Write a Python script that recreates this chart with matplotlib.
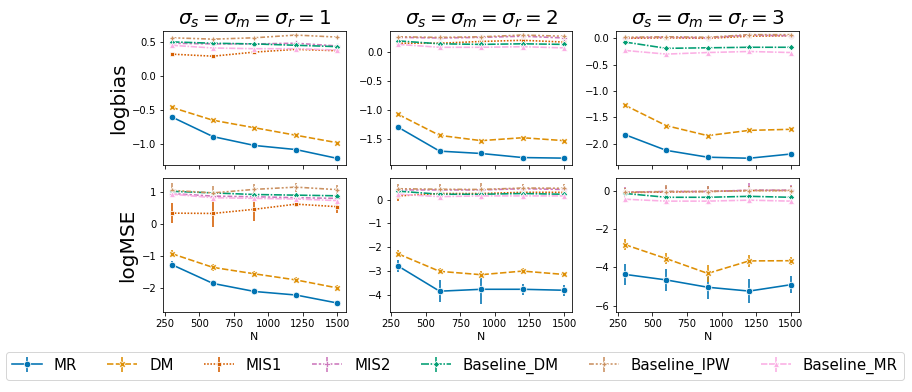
import matplotlib.pyplot as plt

# Tamanhos de amostra
N = [300, 600, 900, 1200, 1500]

methods = ['MR', 'DM', 'MIS1', 'MIS2', 'Baseline_DM', 'Baseline_IPW', 'Baseline_MR']
colors = ['#0173b2', '#de8f05', '#d55e00', '#cc78bc', '#029e73', '#ca9161', '#fbafe4']
markers = ['o', 'X', (4, 0, 45), 'P', (4, 0, 0), (4, 1, 0), '^']
dashes = [(), (4, 1.5), (1, 1), (3, 1.25, 1.5, 1.25), (5, 1, 1, 1),
          (3, 1.25, 1.25, 1.25, 1.25, 1.25), (4, 1, 4, 1, 1, 1)]

# logbias, sigma = 1, 2, 3
bias_s1 = {
    'MR': [-0.60, -0.89, -1.02, -1.08, -1.21],
    'DM': [-0.46, -0.65, -0.76, -0.87, -0.98],
    'MIS1': [0.32, 0.29, 0.35, 0.39, 0.37],
    'MIS2': [0.48, 0.47, 0.47, 0.48, 0.44],
    'Baseline_DM': [0.50, 0.48, 0.47, 0.45, 0.43],
    'Baseline_IPW': [0.56, 0.54, 0.56, 0.60, 0.57],
    'Baseline_MR': [0.45, 0.41, 0.40, 0.40, 0.38],
}
bias_s2 = {
    'MR': [-1.29, -1.70, -1.74, -1.81, -1.82],
    'DM': [-1.07, -1.43, -1.52, -1.47, -1.52],
    'MIS1': [0.15, 0.15, 0.18, 0.20, 0.17],
    'MIS2': [0.25, 0.24, 0.25, 0.27, 0.24],
    'Baseline_DM': [0.19, 0.14, 0.13, 0.14, 0.13],
    'Baseline_IPW': [0.26, 0.25, 0.26, 0.29, 0.27],
    'Baseline_MR': [0.13, 0.08, 0.08, 0.09, 0.07],
}
bias_s3 = {
    'MR': [-1.83, -2.13, -2.26, -2.28, -2.20],
    'DM': [-1.27, -1.66, -1.85, -1.75, -1.73],
    'MIS1': [0.00, 0.01, 0.00, 0.04, 0.05],
    'MIS2': [0.01, 0.02, 0.01, 0.06, 0.05],
    'Baseline_DM': [-0.07, -0.19, -0.18, -0.17, -0.17],
    'Baseline_IPW': [0.02, 0.03, 0.02, 0.07, 0.07],
    'Baseline_MR': [-0.23, -0.30, -0.27, -0.25, -0.27],
}

# logMSE (media) e meia-largura da barra de erro
mse_s1 = {
    'MR': [-1.26, -1.85, -2.10, -2.21, -2.46],
    'DM': [-0.92, -1.35, -1.55, -1.74, -1.99],
    'MIS1': [0.34, 0.33, 0.46, 0.62, 0.54],
    'MIS2': [0.95, 0.87, 0.85, 0.82, 0.80],
    'Baseline_DM': [1.02, 0.97, 0.92, 0.90, 0.88],
    'Baseline_IPW': [1.05, 0.97, 1.08, 1.15, 1.07],
    'Baseline_MR': [0.93, 0.82, 0.80, 0.78, 0.73],
}
err_s1 = {
    'MR': [0.10, 0.10, 0.10, 0.10, 0.06],
    'DM': [0.12, 0.12, 0.10, 0.10, 0.08],
    'MIS1': [0.32, 0.42, 0.38, 0.10, 0.20],
    'MIS2': [0.08, 0.08, 0.08, 0.08, 0.08],
    'Baseline_DM': [0.06, 0.06, 0.06, 0.06, 0.06],
    'Baseline_IPW': [0.22, 0.22, 0.18, 0.14, 0.15],
    'Baseline_MR': [0.08, 0.08, 0.08, 0.08, 0.08],
}
mse_s2 = {
    'MR': [-2.78, -3.83, -3.75, -3.75, -3.79],
    'DM': [-2.27, -3.00, -3.14, -2.99, -3.13],
    'MIS1': [0.15, 0.25, 0.25, 0.30, 0.30],
    'MIS2': [0.40, 0.40, 0.40, 0.45, 0.42],
    'Baseline_DM': [0.35, 0.22, 0.22, 0.25, 0.22],
    'Baseline_IPW': [0.45, 0.43, 0.42, 0.48, 0.47],
    'Baseline_MR': [0.22, 0.12, 0.15, 0.15, 0.15],
}
err_s2 = {
    'MR': [0.25, 0.45, 0.60, 0.22, 0.22],
    'DM': [0.15, 0.12, 0.15, 0.12, 0.12],
    'MIS1': [0.22, 0.15, 0.25, 0.15, 0.15],
    'MIS2': [0.15, 0.15, 0.15, 0.15, 0.15],
    'Baseline_DM': [0.08, 0.08, 0.08, 0.08, 0.08],
    'Baseline_IPW': [0.20, 0.20, 0.25, 0.15, 0.18],
    'Baseline_MR': [0.15, 0.15, 0.15, 0.15, 0.15],
}
mse_s3 = {
    'MR': [-4.36, -4.65, -5.03, -5.23, -4.90],
    'DM': [-2.81, -3.54, -4.31, -3.66, -3.65],
    'MIS1': [-0.10, -0.08, -0.05, 0.00, 0.00],
    'MIS2': [-0.08, -0.05, -0.05, 0.02, 0.02],
    'Baseline_DM': [-0.15, -0.35, -0.35, -0.30, -0.35],
    'Baseline_IPW': [-0.10, -0.05, -0.05, 0.00, 0.00],
    'Baseline_MR': [-0.45, -0.55, -0.55, -0.50, -0.55],
}
err_s3 = {
    'MR': [0.55, 0.55, 0.60, 0.62, 0.45],
    'DM': [0.30, 0.30, 0.45, 0.30, 0.20],
    'MIS1': [0.25, 0.25, 0.25, 0.25, 0.25],
    'MIS2': [0.25, 0.30, 0.30, 0.35, 0.25],
    'Baseline_DM': [0.10, 0.10, 0.10, 0.10, 0.10],
    'Baseline_IPW': [0.25, 0.35, 0.30, 0.25, 0.25],
    'Baseline_MR': [0.20, 0.20, 0.20, 0.20, 0.20],
}

bias_list = [bias_s1, bias_s2, bias_s3]
mse_list = [mse_s1, mse_s2, mse_s3]
err_list = [err_s1, err_s2, err_s3]
titles = [r'$\sigma_s = \sigma_m = \sigma_r = 1$',
          r'$\sigma_s = \sigma_m = \sigma_r = 2$',
          r'$\sigma_s = \sigma_m = \sigma_r = 3$']
bias_lims = [(-1.30, 0.66), (-1.93, 0.36), (-2.40, 0.14)]
mse_lims = [(-2.74, 1.42), (-4.70, 0.88), (-6.32, 0.63)]

# figura gerada a 72 dpi
fig, axes = plt.subplots(2, 3, figsize=(912 / 72, 392 / 72), dpi=72, sharex='col')
fig.subplots_adjust(left=0.179, right=0.876, top=0.921, bottom=0.204,
                    wspace=0.242, hspace=0.104)

handles = []
for j in range(3):
    ax_b = axes[0, j]
    ax_m = axes[1, j]
    for k, m in enumerate(methods):
        ax_b.plot(N, bias_list[j][m], color=colors[k], marker=markers[k],
                  dashes=dashes[k], lw=1.6, ms=6.5, mec='white', mew=0.75)
        h = ax_m.errorbar(N, mse_list[j][m], yerr=err_list[j][m], color=colors[k],
                          marker=markers[k], dashes=dashes[k], lw=1.6, ms=6.5,
                          mec='white', mew=0.75, elinewidth=1.6, capsize=0)
        if j == 0:
            handles.append(h)
    ax_b.set_title(titles[j], fontsize=20)
    ax_b.set_ylim(bias_lims[j])
    ax_m.set_ylim(mse_lims[j])
    ax_m.set_xlabel('N', fontsize=11, labelpad=3)
    ax_m.set_xticks([250, 500, 750, 1000, 1250, 1500])

axes[0, 0].set_ylabel('logbias', fontsize=20)
axes[1, 0].set_ylabel('logMSE', fontsize=20)

fig.legend(handles, methods, loc='lower center', ncol=7, fontsize=15,
           bbox_to_anchor=(0.4985, 0.012))

plt.savefig('out.png', dpi=72)
